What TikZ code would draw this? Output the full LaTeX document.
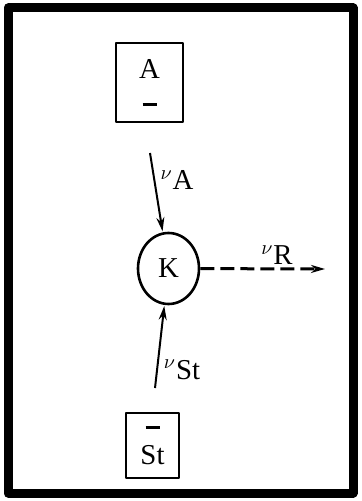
\documentclass[tikz,border=0pt]{standalone}
\usepackage{fontspec}
\setmainfont{Liberation Serif}
\usetikzlibrary{arrows.meta,shapes.geometric}
\begin{document}
\begin{tikzpicture}[x=0.5pt, y=-0.5pt, line join=round]
% scheme of the enzyme K with substrates A and St
\def\poolwd{1.3pt}
\providecommand{\kinFrameWidth}{4.5pt}
\providecommand{\kinArrowWidth}{1pt}
\tikzset{
  pool/.style={draw, line width=\poolwd, rectangle, inner sep=0pt, font=\Large, align=center},
  enzyme/.style={draw, line width=\poolwd, ellipse, minimum width=30.5pt, minimum height=35.5pt, inner sep=0pt, font=\Large},
  flux/.style={-{Stealth[length=7pt, width=4pt]}, line width=\kinArrowWidth, shorten >=0.5pt},
  rate/.style={font=\Large, inner sep=0pt}
}
\useasboundingbox (0,0) rectangle (361,501);
% Outer frame
\draw[line width=\kinFrameWidth] (8,8) rectangle (353,493);
% Pools and enzyme
\node[pool, minimum width=33.5pt, minimum height=39.5pt] (A) at (149.5,82.5) {A\\[-4pt]\rule{7pt}{1.6pt}};
\node[enzyme] (K) at (168.5,268.5) {K};
\node[pool, minimum width=26.5pt, minimum height=32.5pt] (St) at (152.5,445.5) {\rule[3pt]{7pt}{1.6pt}\\[-3pt]St};
% Free ends of the fluxes
\coordinate (inA) at (150,153);
\coordinate (inSt) at (155,388);
\coordinate (outR) at (326,269);
% Fluxes
\draw[flux] (inA) -- (K);
\draw[flux] (inSt) -- (K);
\draw[flux, line width=1.5pt, dash pattern=on 7pt off 3pt] (K) -- (outR);
% Rate labels
\node[rate] (vA) at (177,180) {$^{\nu}$A};
\node[rate] (vR) at (277,255) {$^{\nu}$R};
\node[rate] (vSt) at (182,370) {$^{\nu}$St};
\end{tikzpicture}
\end{document}
